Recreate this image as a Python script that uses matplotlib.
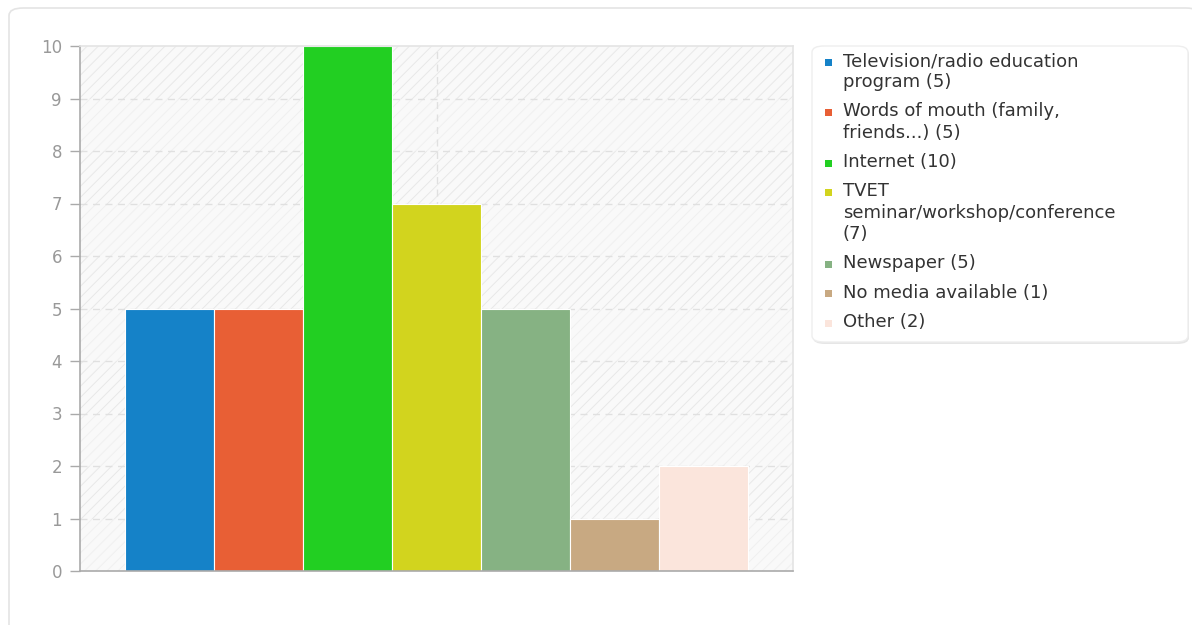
import matplotlib
matplotlib.use("Agg")
import matplotlib.pyplot as plt
from matplotlib.patches import FancyBboxPatch, Rectangle

# answer counts per source of information
labels = [
    "Television/radio education\nprogram (5)",
    "Words of mouth (family,\nfriends...) (5)",
    "Internet (10)",
    "TVET\nseminar/workshop/conference\n(7)",
    "Newspaper (5)",
    "No media available (1)",
    "Other (2)",
]
counts = [5, 5, 10, 7, 5, 1, 2]
colors = ["#1582c8", "#e85f35", "#22cf22", "#d2d41e", "#86b283", "#c8a982", "#fbe5dc"]
y_ticks = list(range(0, 11))

W, H = 1192, 625
DPI = 100
plt.rcParams["font.family"] = ["DejaVu Sans"]
plt.rcParams["hatch.linewidth"] = 0.7

fig = plt.figure(figsize=(W / DPI, H / DPI), dpi=DPI)
fig.patch.set_facecolor("white")


def px(x, y):
    # pixel coords (top-left origin) -> figure fraction
    return x / W, 1 - y / H


# card outline, kept behind the axes
card = FancyBboxPatch(px(9, 640), (1200 - 9) / W, (640 - 8) / H,
                      boxstyle="round,pad=0,rounding_size=0.012",
                      transform=fig.transFigure, facecolor="white",
                      edgecolor="#e4e4e4", linewidth=1.2, zorder=-5)
fig.patches.append(card)

left, top = px(80, 46)
right, bottom = px(793, 571)
ax = fig.add_axes([left, bottom, right - left, top - bottom])
ax.set_facecolor("#f9f9f9")

# striped background bands
for v in range(10):
    ax.add_patch(Rectangle((-1, v), 8, 1, facecolor="none",
                           edgecolor="#e8e8e8" if v % 2 else "#f0f0f0",
                           hatch="///", linewidth=0, zorder=0))

ax.set_xlim(-1, 7)
ax.set_ylim(0, 10)

for v in y_ticks[1:-1]:
    ax.axhline(v, color="#e0e0e0", linewidth=1, linestyle=(0, (5, 4)), zorder=1)
ax.axvline(3, color="#e0e0e0", linewidth=1, linestyle=(0, (5, 4)), zorder=1)

ax.bar(range(len(counts)), counts, width=1, color=colors,
       edgecolor="white", linewidth=0.8, zorder=2)

ax.set_xticks([])
ax.set_yticks(y_ticks)
ax.tick_params(axis="y", length=7, width=1, color="#aaaaaa", pad=6,
               labelsize=12, labelcolor="#999999")
for side in ("left", "bottom"):
    ax.spines[side].set_color("#aaaaaa")
    ax.spines[side].set_linewidth(1.2)
for side in ("top", "right"):
    ax.spines[side].set_color("#e4e4e4")
    ax.spines[side].set_linewidth(1.2)

# legend panel
lx0, ly0, lx1, ly1 = 812, 46, 1188, 342
shadow = FancyBboxPatch(px(lx0 + 1, ly1 + 2), (lx1 - lx0) / W, (ly1 - ly0) / H,
                        boxstyle="round,pad=0,rounding_size=0.01",
                        transform=fig.transFigure, facecolor="#e6e6e6",
                        edgecolor="none", zorder=3)
panel = FancyBboxPatch(px(lx0, ly1), (lx1 - lx0) / W, (ly1 - ly0) / H,
                       boxstyle="round,pad=0,rounding_size=0.01",
                       transform=fig.transFigure, facecolor="white",
                       edgecolor="#eeeeee", linewidth=1, zorder=4)
fig.patches.extend([shadow, panel])

line_h = 21
gap = 8.5
y = 52
for lab, c in zip(labels, colors):
    mx, my = px(828, y + 10)
    fig.patches.append(Rectangle((mx - 3.5 / W, my - 3.5 / H), 7 / W, 7 / H,
                                 transform=fig.transFigure, facecolor=c,
                                 edgecolor="none", zorder=5))
    tx, ty = px(843, y)
    fig.text(tx, ty, lab, fontsize=13, color="#333333", va="top", ha="left",
             linespacing=1.24, zorder=5)
    y += line_h * (lab.count("\n") + 1) + gap

fig.savefig("out.png", dpi=DPI)
